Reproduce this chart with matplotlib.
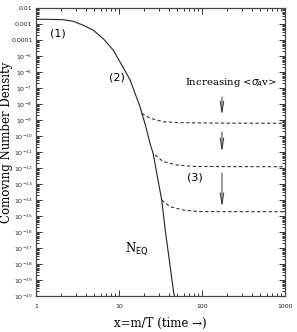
import matplotlib
matplotlib.use('Agg')
import matplotlib.pyplot as plt
from matplotlib.ticker import FixedLocator, LogLocator, NullFormatter

# equilibrium curve
x_eq = [1.0, 1.47, 2.13, 2.81, 3.71, 4.9, 6.47, 8.54, 10.3, 13.6, 17.9, 21.0, 23.6, 25.7,
        29.5, 32.7, 35.8, 45.1, 47.5]
n_eq = [2e-3, 1.95e-3, 1.85e-3, 1.48e-3, 8.3e-4, 4.1e-4, 1.2e-4, 2.3e-5, 4.2e-6, 3.2e-7,
        6.8e-9, 4e-10, 3.5e-11, 8.7e-12, 1.8e-13, 1e-14, 1.8e-16, 2.4e-20, 5e-21]

# freeze-out branches
x_f1 = [18.8, 23.6, 33.9, 54.3, 165, 1000]
n_f1 = [2.6e-9, 1.3e-9, 7.8e-10, 6.8e-10, 6.4e-10, 6.2e-10]
x_f2 = [27.2, 34.2, 49.5, 80, 1000]
n_f2 = [6.5e-12, 2.5e-12, 1.55e-12, 1.25e-12, 1.2e-12]
x_f3 = [32.7, 41.1, 59.5, 90, 1000]
n_f3 = [1e-14, 3.8e-15, 2.35e-15, 1.9e-15, 1.85e-15]

yticks = [10.0**(-k) for k in range(2, 21)]
ylabels = ['0.01', '0.001', '0.0001'] + ['10$^{-%d}$' % k for k in range(5, 21)]
xticks = [1, 10, 100, 1000]
xlabels = ['1', '10', '100', '1000']

fig = plt.figure(figsize=(2.97, 3.32), dpi=100)
ax = fig.add_axes([36/297, 36/332, 249/297, 288/332])

ax.plot(x_eq, n_eq, color='#222222', lw=0.8)
for xs, ns in [(x_f1, n_f1), (x_f2, n_f2), (x_f3, n_f3)]:
    ax.plot(xs, ns, color='#333333', lw=0.8, dashes=(3, 2.2))

ax.set_xscale('log')
ax.set_yscale('log')
ax.set_xlim(1, 1000)
ax.set_ylim(1e-20, 1e-2)

ax.yaxis.set_major_locator(FixedLocator(yticks))
ax.set_yticklabels(ylabels)
ax.yaxis.set_minor_locator(LogLocator(base=10, subs=range(2, 10), numticks=100))
ax.yaxis.set_minor_formatter(NullFormatter())
ax.xaxis.set_major_locator(FixedLocator(xticks))
ax.set_xticklabels(xlabels)
ax.xaxis.set_minor_locator(LogLocator(base=10, subs=range(2, 10), numticks=100))
ax.xaxis.set_minor_formatter(NullFormatter())

ax.tick_params(which='both', direction='in', top=True, right=True, width=0.7, colors='#333333')
ax.tick_params(which='major', length=4, labelsize=4.5, labelcolor='#222222')
ax.tick_params(axis='y', which='major', pad=2.5)
ax.tick_params(axis='x', which='major', pad=6)
ax.tick_params(which='minor', length=2)
for s in ax.spines.values():
    s.set_linewidth(0.9)
    s.set_color('#444444')

serif = 'DejaVu Serif'
fig.text(7/297, 0.57, 'Comoving Number Density', rotation=90, ha='center', va='center',
         family=serif, fontsize=8.5)
fig.text(0.54, 9/332, 'x=m/T (time \u2192)', ha='center', va='center', family=serif, fontsize=8.5)

ax.text(0.088, 0.913, '(1)', transform=ax.transAxes, ha='center', va='center', fontsize=8)
ax.text(0.325, 0.76, '(2)', transform=ax.transAxes, ha='center', va='center', fontsize=8)
ax.text(0.639, 0.413, '(3)', transform=ax.transAxes, ha='center', va='center', fontsize=8)
ax.text(0.405, 0.163, r'N$_{\mathrm{EQ}}$', transform=ax.transAxes, ha='center', va='center',
        family=serif, fontsize=8.5)
ax.text(0.783, 0.743, r'Increasing <$\sigma_{\!A}$v>', transform=ax.transAxes, ha='center',
        va='center', family=serif, fontsize=7.3)

arr = dict(arrowstyle='->,head_length=0.8,head_width=0.13', color='#333333', lw=0.7,
           shrinkA=0, shrinkB=0)
for y0, y1 in [(2.75e-8, 2e-9), (1.8e-10, 1e-11), (4.9e-13, 3.7e-15)]:
    ax.annotate('', xy=(174, y1), xytext=(174, y0), arrowprops=arr)

fig.savefig('out.png', dpi=100)
